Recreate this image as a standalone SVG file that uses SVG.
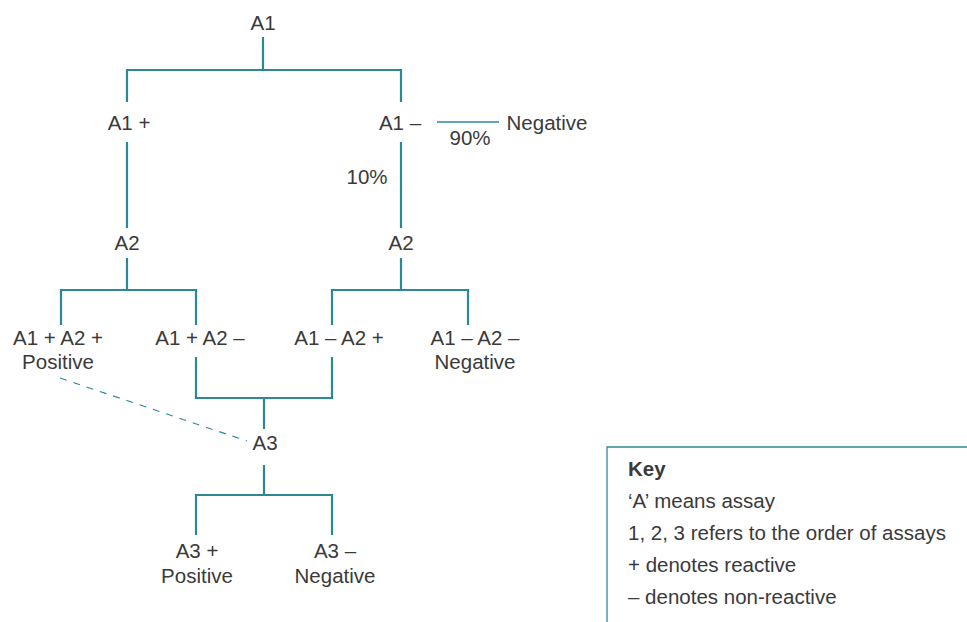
<svg xmlns="http://www.w3.org/2000/svg" width="967" height="622" viewBox="0 0 967 622">
<style>
.t{font-family:"Liberation Sans",Arial,sans-serif;font-size:20.5px;fill:#3a3a3a;text-anchor:middle}
.k{font-family:"Liberation Sans",Arial,sans-serif;font-size:20.5px;fill:#3a3a3a}
.c{fill:none;stroke:#2b8896;stroke-width:2.2}
.thin{fill:none;stroke:#2b8896;stroke-width:1.3}
.d{fill:none;stroke:#2b8896;stroke-width:1.1;stroke-dasharray:7,7}
</style>
<rect width="967" height="622" fill="#fff"/>
<g id="connectors">
<path class="c" d="M263 37V70M127 102V70H401V102"/>
<path class="c" d="M127 142V228M401 142V228"/>
<path class="thin" d="M437 122H499"/>
<path class="c" d="M127 258V290M61 325V290H196V325"/>
<path class="c" d="M401 258V290M332 325V290H468V325"/>
<path class="c" d="M196 357V398H332V357M264 398V429"/>
<path class="c" d="M264 465V495M196 535V495H332V535"/>
<path class="d" d="M60 378L247 441"/>
</g>
<g id="A1"><text class="t" x="263" y="30">A1</text></g>
<g id="A1plus"><text class="t" x="129" y="130">A1 +</text></g>
<g id="A1minus"><text class="t" x="400" y="130">A1 –</text></g>
<g id="neg90"><text class="t" x="547" y="130">Negative</text><text class="t" x="470" y="145">90%</text></g>
<g id="pct10"><text class="t" x="367" y="184">10%</text></g>
<g id="A2left"><text class="t" x="127" y="250">A2</text></g>
<g id="A2right"><text class="t" x="401" y="250">A2</text></g>
<g id="A1pA2p"><text class="t" x="58" y="345">A1 + A2 +</text><text class="t" x="58" y="369">Positive</text></g>
<g id="A1pA2m"><text class="t" x="200" y="345">A1 + A2 –</text></g>
<g id="A1mA2p"><text class="t" x="339" y="345">A1 – A2 +</text></g>
<g id="A1mA2m"><text class="t" x="475" y="345">A1 – A2 –</text><text class="t" x="475" y="369">Negative</text></g>
<g id="A3"><text class="t" x="265" y="450">A3</text></g>
<g id="A3plus"><text class="t" x="197" y="558">A3 +</text><text class="t" x="197" y="583">Positive</text></g>
<g id="A3minus"><text class="t" x="335" y="558">A3 –</text><text class="t" x="335" y="583">Negative</text></g>
<g id="key">
<path class="thin" d="M607 622V447H967"/>
<text class="k" x="628" y="476" font-weight="bold">Key</text>
<text class="k" x="628" y="508">‘A’ means assay</text>
<text class="k" x="628" y="540">1, 2, 3 refers to the order of assays</text>
<text class="k" x="628" y="572">+ denotes reactive</text>
<text class="k" x="628" y="604">– denotes non-reactive</text>
</g>
</svg>
